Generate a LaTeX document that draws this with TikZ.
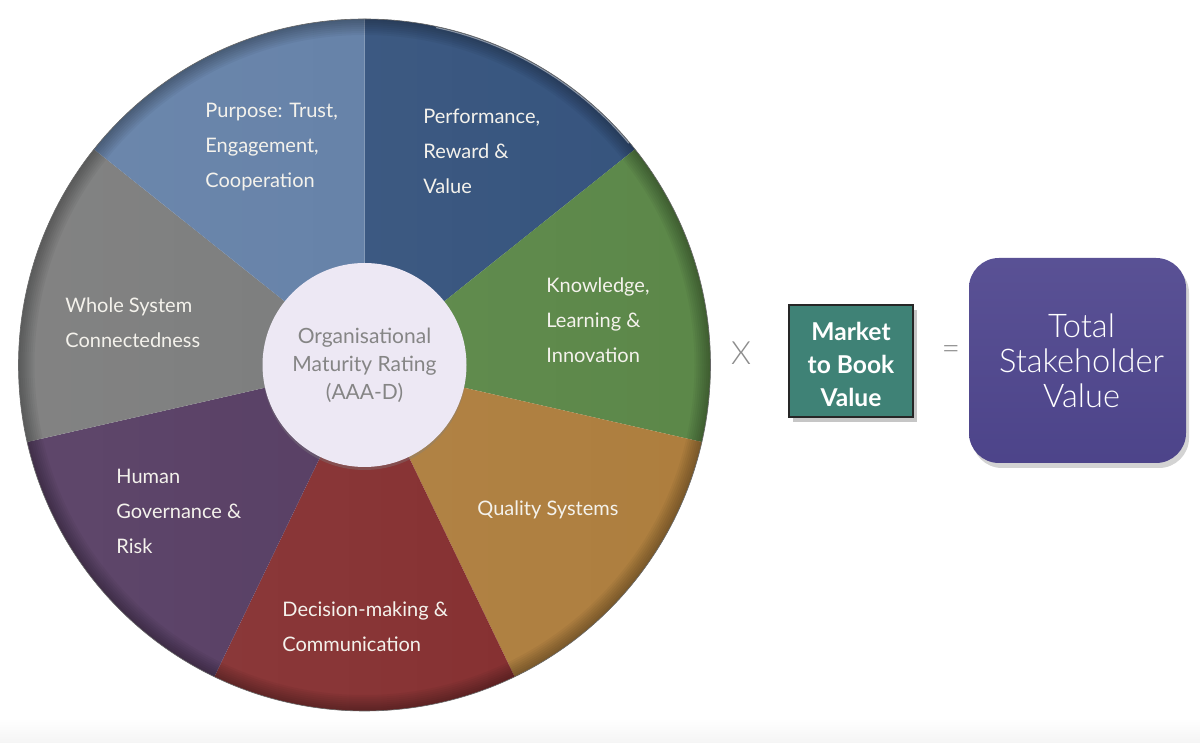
\documentclass[tikz,border=0pt]{standalone}
\usepackage{fontspec}
\setmainfont{Lato}
\IfFontExistsTF{Lato Light}{\newfontfamily\lightfont{Lato Light}}{\newcommand\lightfont{}}
\usetikzlibrary{shadows,fadings}

\definecolor{perfblue}{HTML}{35537D}
\definecolor{knowgreen}{HTML}{5C8849}
\definecolor{qualorange}{HTML}{AE7E3E}
\definecolor{decired}{HTML}{842D2E}
\definecolor{humanpurple}{HTML}{52385F}
\definecolor{wholegray}{HTML}{787979}
\definecolor{purpblue}{HTML}{617EA6}
\definecolor{hubfill}{HTML}{EDE8F4}
\definecolor{hubtext}{HTML}{858585}
\definecolor{mtbteal}{HTML}{3F8276}
\definecolor{tsvpurple}{HTML}{4F468E}
\definecolor{labeltext}{HTML}{F4F2EC}

\tikzset{
  seglabel/.style={text=labeltext,font=\fontsize{10}{17.5}\selectfont,
    align=left,anchor=west,inner sep=0pt},
  hub/.style={circle,fill=hubfill,text=hubtext,minimum size=102pt,inner sep=0pt,
    align=center,font=\fontsize{10.5}{14}\selectfont,
    drop shadow={shadow xshift=0pt,shadow yshift=-1.5pt,opacity=0.35}},
  mtbbox/.style={rectangle,fill=mtbteal,draw=black!85,line width=0.6pt,
    minimum width=62pt,minimum height=56pt,inner sep=0pt,
    drop shadow={shadow xshift=2pt,shadow yshift=-2.5pt,opacity=0.45}},
  mtbtext/.style={align=center,inner sep=0pt,text=white,
    font=\bfseries\fontsize{12.3}{16.5}\selectfont},
  tsvbox/.style={rectangle,rounded corners=15pt,top color=tsvpurple!94!white,
    bottom color=tsvpurple!97!black,minimum width=108.5pt,minimum height=102.5pt,
    inner sep=0pt,
    drop shadow={shadow xshift=1.5pt,shadow yshift=-2.5pt,opacity=0.35}},
  tsvtext/.style={align=center,inner sep=0pt,text=white,
    font=\lightfont\fontsize{16.3}{17.5}\selectfont},
  op/.style={text=black!45,font=\lightfont\fontsize{16}{16}\selectfont,inner sep=0pt}
}

\begin{document}
\begin{tikzpicture}[x=0.5pt,y=0.5pt]
  \useasboundingbox (0,0) rectangle (1200,743);
  \def\R{346}
  \shade[top color=white,bottom color=black!4] (0,0) rectangle (1200,25);
  \coordinate (c) at (364.5,378);
  % seven equal sectors, clockwise from the top
  \foreach \col [count=\i from 0] in {perfblue,knowgreen,qualorange,decired,humanpurple,wholegray,purpblue}
    \fill[\col] (c) -- ++({90-\i*360/7}:\R)
      arc[start angle={90-\i*360/7},delta angle={-360/7},radius=\R] -- cycle;
  \fill[white,path fading=east,fill opacity=0.08] (c) circle[radius=\R];
  \begin{scope}
    \clip (c) circle[radius=\R];
    \foreach \w in {2,4,...,16}
      \draw[black,opacity=0.04,line width={\w*1pt}] (c) circle[radius=\R];
  \end{scope}
  \draw[white,opacity=0.45,line width=0.6pt] (c) ++(40:\R-1)
    arc[start angle=40,end angle=78,radius=\R-1];
  \draw[black!60,line width=0.3pt] (c) circle[radius=\R];

  \node[seglabel] (perf) at (423,592) {Performance,\\Reward \&\\Value};
  \node[seglabel] (know) at (546,423) {Knowledge,\\Learning \&\\Innovation};
  \node[seglabel] (qual) at (477,233) {Quality Systems};
  \node[seglabel] (deci) at (282,116.5) {Decision-making \&\\Communication};
  \node[seglabel] (human) at (116,232) {Human\\Governance \&\\Risk};
  \node[seglabel] (whole) at (65,420.5) {Whole System\\Connectedness};
  \node[seglabel] (purp) at (205,596) {Purpose: Trust,\\Engagement,\\Cooperation};

  \node[hub] (hub) at (c) {Organisational\\Maturity Rating\\(AAA-D)};

  \node[op] (times) at (741,390) {X};
  \node[mtbbox] (mtb) at (851,382) {};
  \node[mtbtext] (mtblabel) at ([yshift=-1.5pt]mtb.center) {Market\\to Book\\Value};
  \node[op] (equals) at (951,390) {=};
  \node[tsvbox] (tsv) at (1077.5,382.5) {};
  \node[tsvtext] (tsvlabel) at ([xshift=2pt]tsv.center) {Total\\Stakeholder\\Value};
\end{tikzpicture}
\end{document}
